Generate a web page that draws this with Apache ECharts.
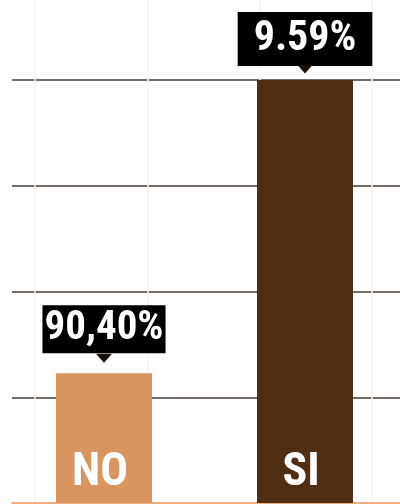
<!DOCTYPE html>
<html>
<head>
<meta charset="utf-8">
<style>
html,body{margin:0;padding:0;background:#ffffff;}
#chart{width:400px;height:504px;}
</style>
<script src="https://cdn.jsdelivr.net/npm/echarts@6/dist/echarts.min.js"></script>
</head>
<body>
<div id="chart"></div>
<script>
// ---- data ----
const categories = ['NO', 'SI'];
const positions = [0, 1];
const barHeights = [30.7, 100];          // bar heights on a 0-100 scale
const valueLabels = ['90,40%', '9.59%']; // label texts as printed
const barColors = ['#d99560', '#4f2e14'];

const FONT = '"Roboto Condensed", "Open Sans Condensed", sans-serif';

const chart = echarts.init(document.getElementById('chart'));

const boxLabelStyles = [
  { padding: [4, 2, 4, 2], lineHeight: 40, distance: 20, fontSize: 41 },
  { padding: [5, 16, 5, 16], lineHeight: 44, distance: 14, fontSize: 42 }
];

chart.setOption({
  animation: false,
  backgroundColor: '#ffffff',
  grid: [
    { left: 12, right: 0, top: 80, bottom: 1, containLabel: false },
    { left: 35, right: 28, top: 0, bottom: 0, containLabel: false }
  ],
  xAxis: [
    {
      type: 'value', gridIndex: 0, min: -0.4577, max: 1.4726,
      axisLine: { show: true, lineStyle: { color: '#efae7e', width: 2 } },
      axisTick: { show: false }, axisLabel: { show: false }, splitLine: { show: false }
    },
    {
      type: 'value', gridIndex: 1, min: 0, max: 3, interval: 1,
      axisLine: { show: false }, axisTick: { show: false }, axisLabel: { show: false },
      splitLine: { show: true, lineStyle: { color: '#f6f2ef', width: 1.5 } }
    }
  ],
  yAxis: [
    {
      type: 'value', gridIndex: 0, min: 0, max: 100, interval: 25,
      axisLine: { show: false }, axisTick: { show: false }, axisLabel: { show: false },
      splitLine: { show: true, lineStyle: { color: '#4a3b32', width: 1.5 } }
    },
    {
      type: 'value', gridIndex: 1, min: 0, max: 1,
      axisLine: { show: false }, axisTick: { show: false }, axisLabel: { show: false },
      splitLine: { show: false }
    }
  ],
  series: [
    {
      type: 'bar', xAxisIndex: 0, yAxisIndex: 0, z: 3,
      barWidth: 96,
      data: positions.map((p, i) => ({
        value: [p, barHeights[i]],
        itemStyle: { color: barColors[i] },
        label: {
          show: true,
          position: 'top',
          distance: boxLabelStyles[i].distance,
          formatter: valueLabels[i],
          color: '#ffffff',
          backgroundColor: '#000000',
          fontFamily: FONT,
          fontWeight: 'bold',
          fontSize: boxLabelStyles[i].fontSize,
          lineHeight: boxLabelStyles[i].lineHeight,
          padding: boxLabelStyles[i].padding
        }
      }))
    },
    {
      type: 'scatter', xAxisIndex: 0, yAxisIndex: 0, z: 4,
      symbol: 'triangle', symbolRotate: 180, symbolSize: [16, 9],
      silent: true,
      itemStyle: { color: '#1a0f08', opacity: 1 },
      data: positions.map((p, i) => ({
        value: [p, barHeights[i]],
        symbolOffset: [0, i === 0 ? -15 : -11]
      }))
    },
    {
      type: 'scatter', xAxisIndex: 0, yAxisIndex: 0, z: 5,
      symbolSize: 0, silent: true,
      itemStyle: { opacity: 1 },
      data: positions.map((p, i) => ({ value: [p, 0], name: categories[i] })),
      label: {
        show: true,
        position: 'top',
        distance: 7,
        offset: [-4, 0],
        formatter: (d) => d.name,
        color: '#ffffff',
        opacity: 1,
        fontFamily: FONT,
        fontWeight: 'bold',
        fontSize: 46
      }
    }
  ]
});
</script>
</body>
</html>
